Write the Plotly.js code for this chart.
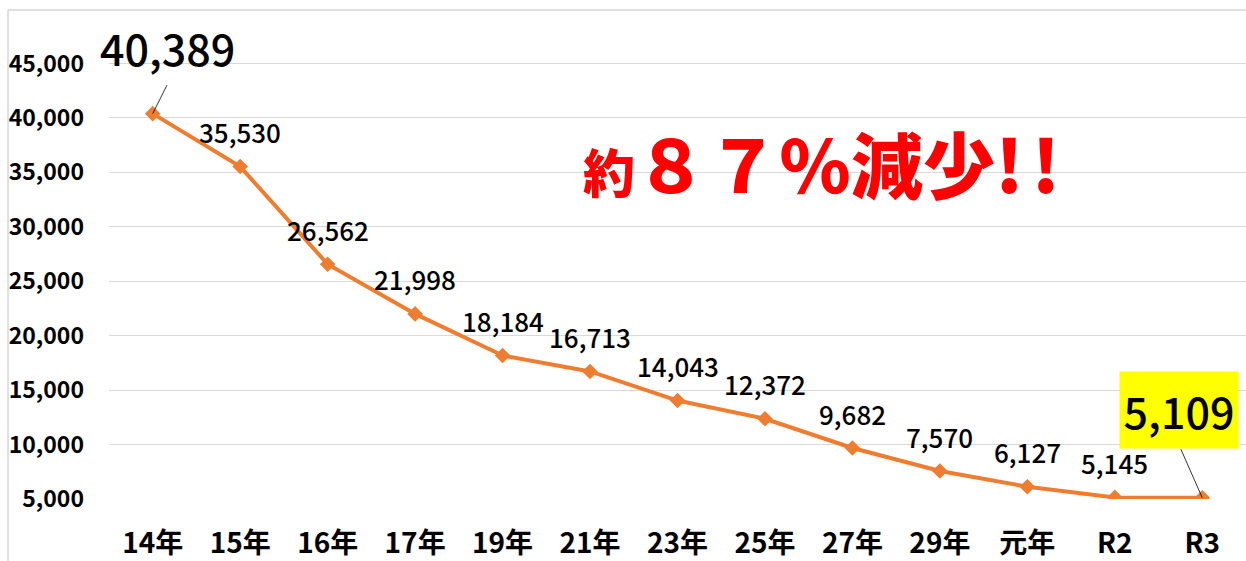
<!DOCTYPE html>
<html>
<head>
<meta charset="utf-8">
<script src="https://cdn.plot.ly/plotly-3.0.1.min.js"></script>
<style>html,body{margin:0;padding:0;background:#fff;}#chart{width:1246px;height:561px;}</style>
</head>
<body>
<div id="chart"></div>
<script>
const categories = ["14年","15年","16年","17年","19年","21年","23年","25年","27年","29年","元年","R2","R3"];
const values = [40389,35530,26562,21998,18184,16713,14043,12372,9682,7570,6127,5145,5109];
const yTicks = [5000,10000,15000,20000,25000,30000,35000,40000,45000];
const yTickText = ["5,000","10,000","15,000","20,000","25,000","30,000","35,000","40,000","45,000"];
const headline = "約８７％減少!!";

const fmt = v => v.toLocaleString("en-US");
const FONT = "Noto Sans CJK JP, Noto Sans, sans-serif";

const annotations = [];
values.forEach((v, i) => {
  if (i === 0 || i === values.length - 1) return;
  annotations.push({
    x: categories[i], y: v, xref: "x", yref: "y",
    text: fmt(v), showarrow: false, yshift: 35,
    font: {family: FONT, size: 26, color: "#000", weight: 500}
  });
});
// first label (large) with leader line
annotations.push({
  x: categories[0], y: values[0], xref: "x", yref: "y",
  text: fmt(values[0]), showarrow: false, xshift: 15, yshift: 67,
  font: {family: FONT, size: 43, color: "#000", weight: 500}
});
annotations.push({
  x: categories[0], y: values[0], xref: "x", yref: "y",
  text: "", showarrow: true, arrowhead: 0, arrowwidth: 0.8, arrowcolor: "#000",
  ax: 15, ay: -30, standoff: 0
});
// last label (highlighted)
const li = values.length - 1;
annotations.push({
  x: categories[li], y: values[li], xref: "x", yref: "y",
  text: fmt(values[li]), showarrow: false, xshift: -23, yshift: 88,
  width: 118, height: 76, bgcolor: "#ffff00", borderpad: 0,
  font: {family: FONT, size: 43, color: "#000", weight: 500}
});
annotations.push({
  x: categories[li], y: values[li], xref: "x", yref: "y",
  text: "", showarrow: true, arrowhead: 0, arrowwidth: 0.8, arrowcolor: "#000",
  ax: -22, ay: -50, standoff: 0
});
// headline
annotations.push({
  x: 0.63, y: 0.80, xref: "paper", yref: "paper",
  text: '<span style="font-size:52px">' + headline.slice(0,1) + '</span>' + headline.slice(1,6) +
        '<span style="letter-spacing:8px">' + headline.slice(6) + '</span>',
  showarrow: false,
  font: {family: FONT, size: 72, color: "#ff0000", weight: 900}
});

const trace = {
  x: categories, y: values, type: "scatter", mode: "lines+markers",
  line: {color: "#ED7D31", width: 4},
  marker: {symbol: "diamond", size: 12, color: "#ED7D31"},
  hoverinfo: "skip"
};

const layout = {
  width: 1246, height: 561,
  margin: {l: 109, r: 0, t: 9, b: 62},
  paper_bgcolor: "#fff", plot_bgcolor: "#fff",
  showlegend: false,
  xaxis: {
    type: "category", showgrid: false, zeroline: false, showline: false,
    ticks: "", ticklabelstandoff: 25,
    tickfont: {family: FONT, size: 28, color: "#000", weight: "bold"},
    range: [-0.5, 12.5]
  },
  yaxis: {
    range: [5000, 50000], tickvals: yTicks, ticktext: yTickText,
    showgrid: true, gridcolor: "#d9d9d9", gridwidth: 1,
    zeroline: false, showline: false, ticks: "", ticklabelstandoff: 24,
    tickfont: {family: FONT, size: 23, color: "#000", weight: "bold"}
  },
  shapes: [
    {type: "line", xref: "paper", yref: "paper", x0: -0.0888, x1: 1.01, y0: 0.998, y1: 0.998,
     line: {color: "#e0e0e0", width: 2}},
    {type: "line", xref: "paper", yref: "paper", x0: -0.0888, x1: -0.0888, y0: -0.2, y1: 0.998,
     line: {color: "#e0e0e0", width: 2}}
  ],
  annotations: annotations
};

Plotly.newPlot("chart", [trace], layout, {displayModeBar: false, staticPlot: true});
</script>
</body>
</html>
